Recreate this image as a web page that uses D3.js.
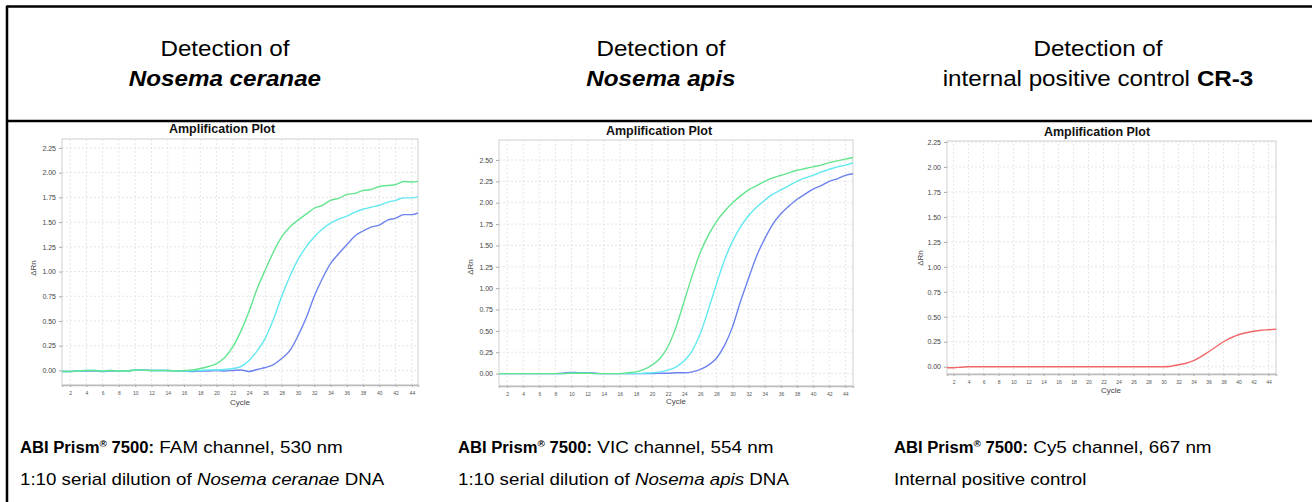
<!DOCTYPE html>
<html><head><meta charset="utf-8">
<script src="https://cdn.jsdelivr.net/npm/d3@7"></script>
<style>
html,body{margin:0;padding:0;background:#fff;}
svg{display:block;font-family:"Liberation Sans",Arial,sans-serif;}
</style></head>
<body>
<svg id="c" width="1312" height="502"></svg>
<script>
// ---------- data ----------
const cycles = d3.range(1, 46); // 1..45

const ncGreen = [-0.01,-0.01,-0.005,0,0,-0.005,0,-0.005,-0.005,0.005,0.003,0,0,0,-0.005,0,0.005,0.02,0.04,0.07,0.13,0.24,0.40,0.60,0.83,1.02,1.20,1.35,1.45,1.52,1.58,1.64,1.67,1.72,1.74,1.78,1.79,1.82,1.83,1.86,1.87,1.88,1.91,1.905,1.915];
const ncCyan  = [-0.01,-0.01,-0.005,0,0,-0.005,0,-0.005,-0.005,0.005,0.003,0,0,0,-0.005,-0.005,-0.005,0,0.005,0.005,0.01,0.02,0.04,0.10,0.20,0.33,0.52,0.75,0.95,1.12,1.25,1.35,1.43,1.49,1.53,1.56,1.60,1.63,1.65,1.67,1.70,1.72,1.745,1.745,1.76];
const ncBlue  = [-0.01,-0.01,-0.005,-0.005,-0.005,-0.01,-0.005,-0.005,-0.005,0.005,0.005,0,0,0,-0.005,-0.005,-0.01,-0.005,-0.005,0,-0.005,0,0.005,-0.01,0.01,0.03,0.06,0.12,0.20,0.35,0.53,0.75,0.93,1.08,1.18,1.27,1.36,1.41,1.45,1.47,1.52,1.54,1.575,1.575,1.60];

const naGreen = [0,0,0,0,0,0,0,0,0,0.005,0.005,0.005,0,0,0,0,0.01,0.02,0.05,0.10,0.18,0.32,0.55,0.85,1.15,1.42,1.62,1.78,1.90,2.00,2.08,2.15,2.20,2.25,2.29,2.32,2.35,2.38,2.40,2.42,2.44,2.47,2.49,2.51,2.53];
const naCyan  = [0,0,0,0,0,0,0,0,0,0.005,0.005,0.005,0,0,0,0,0,0,0.005,0.01,0.02,0.04,0.08,0.15,0.27,0.47,0.75,1.05,1.33,1.55,1.72,1.85,1.95,2.03,2.10,2.15,2.20,2.25,2.29,2.32,2.36,2.39,2.42,2.44,2.47];
const naBlue  = [0,0,0,0,0,0,0,0,0.005,0.015,0.01,0.01,0.005,0,0,0,0,0,0,0,0.005,0.005,0.01,0.01,0.02,0.05,0.10,0.18,0.33,0.55,0.85,1.12,1.38,1.58,1.75,1.87,1.96,2.04,2.10,2.16,2.20,2.25,2.28,2.32,2.34];

const ipcRed  = [-0.01,-0.01,-0.005,0,0,0,0,0,0,0,0,0,0,0,0,0,0,0,0,0,0,0,0,0,0,0,0,0,0,0,0.005,0.02,0.035,0.06,0.10,0.15,0.20,0.25,0.29,0.32,0.34,0.355,0.365,0.37,0.375];

const xTicks = d3.range(2, 46, 2);
const yTicks225 = d3.range(0, 2.26, 0.25);
const yTicks250 = d3.range(0, 2.51, 0.25);

const headers1 = [[{t:"Detection of"}],[{t:"Detection of"}],[{t:"Detection of"}]];
const headers2 = [
  [{t:"Nosema ceranae", b:true, i:true}],
  [{t:"Nosema apis", b:true, i:true}],
  [{t:"internal positive control "},{t:"CR-3", b:true}]
];
const captions1 = [
  [{t:"ABI Prism",b:true},{t:"®",b:true,sup:true},{t:" 7500:",b:true},{t:" FAM channel, 530 nm"}],
  [{t:"ABI Prism",b:true},{t:"®",b:true,sup:true},{t:" 7500:",b:true},{t:" VIC channel, 554 nm"}],
  [{t:"ABI Prism",b:true},{t:"®",b:true,sup:true},{t:" 7500:",b:true},{t:" Cy5 channel, 667 nm"}]
];
const captions2 = [
  [{t:"1:10 serial dilution of "},{t:"Nosema ceranae",i:true},{t:" DNA"}],
  [{t:"1:10 serial dilution of "},{t:"Nosema apis",i:true},{t:" DNA"}],
  [{t:"Internal positive control"}]
];

const colGreen = "#62e58e", colCyan = "#62e8f0", colBlue = "#6c82ef", colRed = "#f26868";

// ---------- layout ----------
const plots = [
  {xd:[1,44.75], xr:[62,418], yd:[-0.147,2.34], yr:[385,139], ticks:yTicks225,
   series:[[ncBlue,colBlue],[ncCyan,colCyan],[ncGreen,colGreen]], title:[222,133], ylab:[36,268], xlab:[240,405]},
  {xd:[1,44.95], xr:[499,853], yd:[-0.145,2.734], yr:[386,140], ticks:yTicks250,
   series:[[naBlue,colBlue],[naCyan,colCyan],[naGreen,colGreen]], title:[659,135], ylab:[473,267], xlab:[676,404]},
  {xd:[1.12,44.99], xr:[947,1276], yd:[-0.073,2.26], yr:[374,141], ticks:yTicks225,
   series:[[ipcRed,colRed]], title:[1097,136], ylab:[923,258], xlab:[1111,393]}
];

const svg = d3.select("#c");

// table borders
svg.append("line").attr("x1",7).attr("x2",1312).attr("y1",6.5).attr("y2",6.5).attr("stroke","#000").attr("stroke-width",2.5);
svg.append("line").attr("x1",7).attr("x2",7).attr("y1",5.5).attr("y2",502).attr("stroke","#000").attr("stroke-width",2.5);
svg.append("line").attr("x1",7).attr("x2",1312).attr("y1",121).attr("y2",121).attr("stroke","#000").attr("stroke-width",2.5);

// rich text: segments laid out one after another, each horizontally scaled
function rich(x, y, parts, size, sxReg, sxBold, anchor){
  const g = svg.append("g");
  let cx = 0, supped = false;
  const items = [];
  parts.forEach(s=>{
    const fs = s.sup ? size*0.6 : size;
    const sx = s.b ? sxBold : sxReg;
    const t = g.append("text").attr("font-size",fs).attr("fill","#000")
      .attr("font-weight",s.b?"bold":null).attr("font-style",s.i?"italic":null)
      .attr("xml:space","preserve").style("white-space","pre").text(s.t);
    const w = t.node().getComputedTextLength()*sx;
    items.push([t, cx, s.sup ? -size*0.38 : 0, sx]);
    cx += w;
  });
  const off = anchor==="middle" ? -cx/2 : 0;
  items.forEach(([t,ox,dy,sx])=>t.attr("transform",`translate(${x+off+ox},${y+dy}) scale(${sx},1)`));
}

const hx = [225, 661, 1098];
headers1.forEach((h,k)=>rich(hx[k],56,h,22,1.1,1.1,"middle"));
headers2.forEach((h,k)=>rich(hx[k],86,h,22,1.1,1.1,"middle"));

const cx = [20, 458, 894];
captions1.forEach((c,k)=>rich(cx[k],453,c,16,1.18,1.04));
captions2.forEach((c,k)=>rich(cx[k],485,c,16,1.17,1.04));

// plots
plots.forEach(p=>{
  const x = d3.scaleLinear().domain(p.xd).range(p.xr);
  const y = d3.scaleLinear().domain(p.yd).range(p.yr);
  const g = svg.append("g");
  // grid
  g.selectAll(".vg").data(xTicks).join("line")
    .attr("x1",d=>x(d)).attr("x2",d=>x(d)).attr("y1",p.yr[0]).attr("y2",p.yr[1])
    .attr("stroke","#e0e0e0").attr("stroke-width",0.8).attr("stroke-dasharray","2,2");
  g.selectAll(".hg").data(p.ticks).join("line")
    .attr("x1",p.xr[0]).attr("x2",p.xr[1]).attr("y1",d=>y(d)).attr("y2",d=>y(d))
    .attr("stroke","#e0e0e0").attr("stroke-width",0.8).attr("stroke-dasharray","2,2");
  // frame
  g.append("rect").attr("x",p.xr[0]).attr("y",p.yr[1]).attr("width",p.xr[1]-p.xr[0]).attr("height",p.yr[0]-p.yr[1])
    .attr("fill","none").attr("stroke","#cfcfcf").attr("stroke-width",1);
  // axes
  const ya = d3.axisLeft(y).tickValues(p.ticks).tickFormat(d3.format(".2f")).tickSize(3).tickPadding(3);
  const yg = g.append("g").attr("transform",`translate(${p.xr[0]},0)`).call(ya);
  yg.select(".domain").remove();
  yg.selectAll("text").attr("font-size",7).attr("fill","#444").attr("font-family","Liberation Sans, Arial");
  yg.selectAll("line").attr("stroke","#aaa");
  const xa = d3.axisBottom(x).tickValues(xTicks).tickSize(2).tickPadding(4);
  const xg = g.append("g").attr("transform",`translate(0,${p.yr[0]})`).call(xa);
  xg.select(".domain").attr("stroke","#bbb").attr("stroke-width",1.5);
  xg.selectAll("text").attr("font-size",5).attr("fill","#555").attr("font-family","Liberation Sans, Arial");
  xg.selectAll("line").attr("stroke","#aaa");
  // lines
  const line = d3.line().x((d,i)=>x(cycles[i])).y(d=>y(d)).curve(d3.curveMonotoneX);
  const clipId = "clip"+p.xr[0];
  svg.append("clipPath").attr("id",clipId).append("rect")
    .attr("x",p.xr[0]).attr("y",p.yr[1]).attr("width",p.xr[1]-p.xr[0]).attr("height",p.yr[0]-p.yr[1]);
  p.series.forEach(([vals,col])=>{
    g.append("path").datum(vals).attr("d",line).attr("fill","none")
      .attr("stroke",col).attr("stroke-width",1.4).attr("clip-path",`url(#${clipId})`);
  });
  // labels
  g.append("text").attr("x",p.title[0]).attr("y",p.title[1]).attr("text-anchor","middle")
    .attr("font-size",12.5).attr("font-weight","bold").attr("fill","#111").text("Amplification Plot");
  g.append("text").attr("transform",`translate(${p.ylab[0]},${p.ylab[1]}) rotate(-90)`).attr("text-anchor","middle")
    .attr("font-size",8).attr("fill","#444").text("ΔRn");
  g.append("text").attr("x",p.xlab[0]).attr("y",p.xlab[1]).attr("text-anchor","middle")
    .attr("font-size",8).attr("fill","#444").text("Cycle");
});
</script>
</body></html>
